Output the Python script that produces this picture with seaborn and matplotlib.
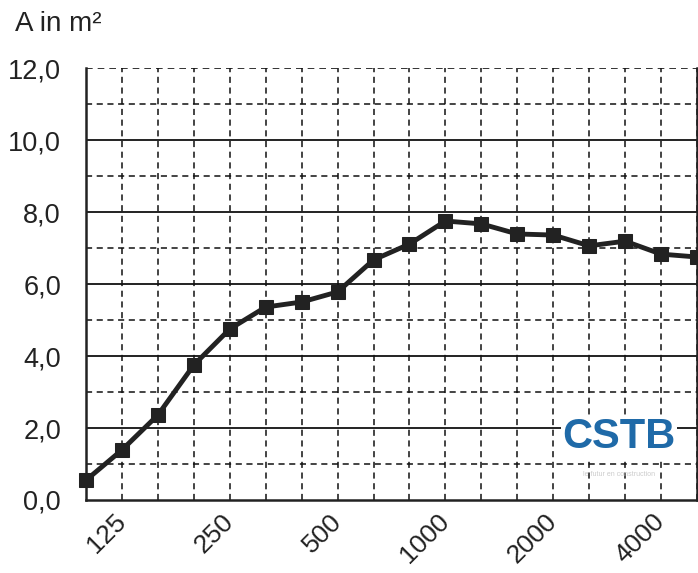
import matplotlib
matplotlib.use("Agg")
import matplotlib.pyplot as plt
import seaborn as sns
import pandas as pd

# third-octave bands, 100 Hz .. 5000 Hz
bands = [100, 125, 160, 200, 250, 315, 400, 500, 630, 800,
         1000, 1250, 1600, 2000, 2500, 3150, 4000, 5000]
absorption = [0.55, 1.39, 2.36, 3.75, 4.75, 5.36, 5.50, 5.78, 6.67, 7.11,
              7.75, 7.67, 7.39, 7.36, 7.06, 7.19, 6.83, 6.75]
tick_labels = ["125", "250", "500", "1000", "2000", "4000"]
y_ticks = [0, 2, 4, 6, 8, 10, 12]

df = pd.DataFrame({"idx": range(len(bands)), "band": bands, "A": absorption})

sns.set_style("white")
plt.rcParams["font.family"] = ["Liberation Sans", "DejaVu Sans"]

fig = plt.figure(figsize=(6.98, 5.73), dpi=100)
ax = fig.add_axes([0.1232, 0.1274, 0.8754, 0.7539])

# grid: dashed on every band and odd values, solid on even values
for i in range(len(bands)):
    ax.axvline(i, color="#111111", lw=1.1, ls=(0, (4, 3)), zorder=1)
for v in range(1, 12, 2):
    ax.axhline(v, color="#111111", lw=1.1, ls=(0, (4, 3)), zorder=1)
ax.axhline(12, color="#111111", lw=1.2, ls=(0, (4, 3)), zorder=1)
for v in range(2, 12, 2):
    ax.axhline(v, color="#111111", lw=1.3, zorder=1)

sns.lineplot(data=df, x="idx", y="A", ax=ax, color="#222222", lw=3.5,
             marker="s", markersize=10.5, markeredgecolor="#222222",
             clip_on=False, zorder=3)

ax.set_xlim(0, len(bands) - 1)
ax.set_ylim(0, 12)
ax.set_yticks(y_ticks)
ax.set_yticklabels([f"{v:.1f}".replace(".", ",") for v in y_ticks], fontsize=19.5)
tick_pos = [bands.index(int(t)) for t in tick_labels]
ax.set_xticks(tick_pos)
ax.set_xticklabels(tick_labels, fontsize=19, rotation=45, ha="right",
                   va="center", rotation_mode="anchor")
ax.tick_params(axis="both", length=0, colors="#222222")
ax.tick_params(axis="y", pad=18)
ax.tick_params(axis="x", pad=13)
ax.set_xlabel("")
ax.set_ylabel("")

for side in ["left", "bottom", "right"]:
    ax.spines[side].set_color("#222222")
    ax.spines[side].set_linewidth(1.8)
ax.spines["top"].set_visible(False)

fig.text(0.021, 0.981, "A in m²", fontsize=20, color="#222222", va="top")

ax.text(0.872, 0.145, "CSTB", transform=ax.transAxes, fontsize=30,
        fontweight="bold", color="#1f6aa8", ha="center", va="center",
        zorder=4, bbox=dict(facecolor="white", edgecolor="none", pad=1))
ax.text(0.872, 0.06, "le futur en construction", transform=ax.transAxes,
        fontsize=5, color="#cccccc", ha="center", va="center", zorder=4)

fig.savefig("out.png", dpi=100)
